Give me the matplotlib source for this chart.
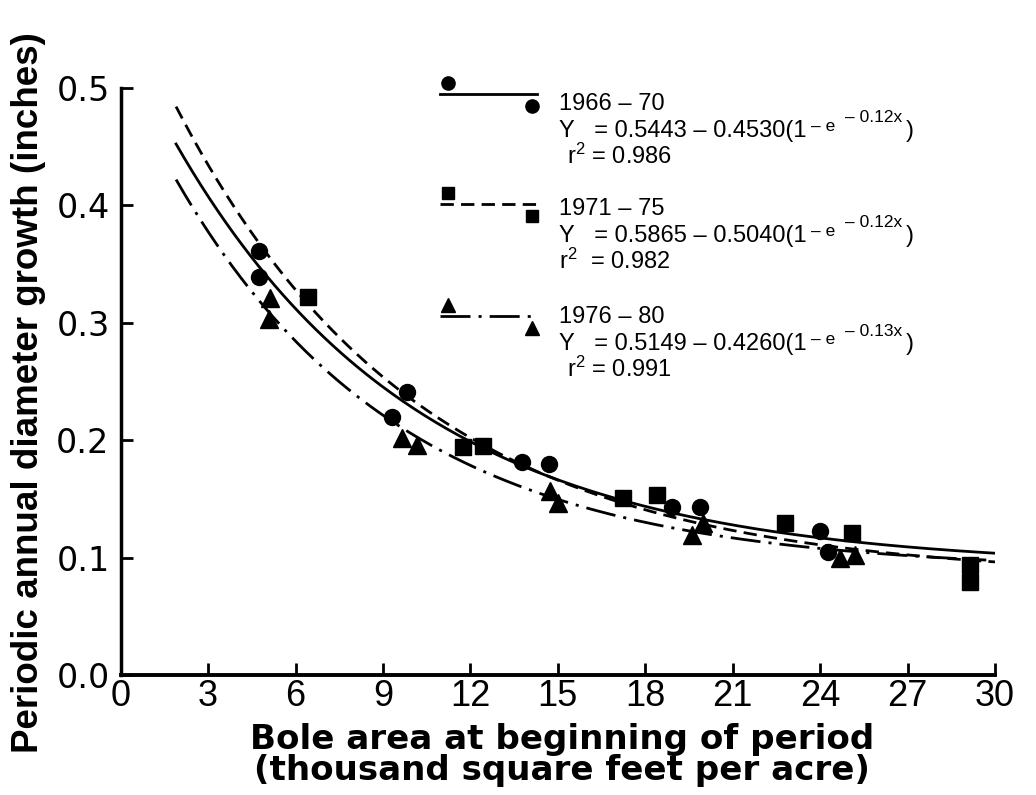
import numpy as np
import matplotlib
matplotlib.use("Agg")
import matplotlib.pyplot as plt

plt.rcParams['font.family'] = ['Liberation Sans', 'DejaVu Sans']
plt.rcParams['mathtext.fontset'] = 'custom'
plt.rcParams['mathtext.rm'] = 'Liberation Sans'
plt.rcParams['mathtext.it'] = 'Liberation Sans'

x_6670 = [4.75, 4.75, 9.83, 9.31, 13.77, 14.70, 18.92, 19.88, 24.00, 24.27]
y_6670 = [0.361, 0.339, 0.241, 0.220, 0.181, 0.180, 0.143, 0.143, 0.123, 0.105]

x_7175 = [6.43, 11.75, 12.44, 17.24, 18.41, 22.80, 25.10, 29.14, 29.14]
y_7175 = [0.322, 0.194, 0.195, 0.151, 0.153, 0.129, 0.121, 0.094, 0.079]

x_7680 = [5.13, 5.09, 9.65, 10.17, 14.73, 15.01, 19.98, 19.61, 24.68, 25.20]
y_7680 = [0.321, 0.303, 0.202, 0.196, 0.157, 0.146, 0.129, 0.119, 0.100, 0.102]

# fitted curves  Y = a - b(1 - e^(-k x))  as printed on the chart
periods = ['1966 – 70', '1971 – 75', '1976 – 80']
coef_a = [0.5443, 0.5865, 0.5149]
coef_b = [0.4530, 0.5040, 0.4260]
coef_k = [0.12, 0.12, 0.13]
r2 = ['0.986', '0.982', '0.991']
curve_start = [1.9, 1.9, 1.9]
curve_end = [30.0, 30.0, 29.7]

x_ticks = [0, 3, 6, 9, 12, 15, 18, 21, 24, 27, 30]
y_ticks = [0.0, 0.1, 0.2, 0.3, 0.4, 0.5]

fig = plt.figure(figsize=(10.36, 7.95), dpi=100)
ax = fig.add_axes([0.1165, 0.1509, 0.8439, 0.739])

styles = ['-', (0, (4.8, 2.6)), (0, (10.8, 2.9, 1.1, 2.9))]
markers = ['o', 's', '^']
msizes = [11.5, 11.5, 12.5]
pts = [(x_6670, y_6670), (x_7175, y_7175), (x_7680, y_7680)]

for i in range(3):
    xs = np.linspace(curve_start[i], curve_end[i], 300)
    ys = coef_a[i] - coef_b[i] * (1 - np.exp(-coef_k[i] * xs))
    ax.plot(xs, ys, color='black', lw=2.0, linestyle=styles[i])
    ax.plot(pts[i][0], pts[i][1], linestyle='none', marker=markers[i],
            ms=msizes[i], color='black', clip_on=False)

ax.set_xlim(0, 30)
ax.set_ylim(0, 0.5)
ax.spines['top'].set_visible(False)
ax.spines['right'].set_visible(False)
ax.spines['left'].set_linewidth(2.5)
ax.spines['bottom'].set_linewidth(2.8)

ax.set_xticks(x_ticks)
ax.set_xticklabels([str(t) for t in x_ticks])
ax.set_yticks(y_ticks)
ax.set_yticklabels(['%.1f' % t for t in y_ticks])
ax.tick_params(axis='x', direction='in', length=8.5, width=2, labelsize=26, pad=3)
ax.tick_params(axis='y', direction='in', length=8.5, width=2, labelsize=24, pad=8)
for lbl in ax.get_yticklabels():
    lbl.set_fontfamily('DejaVu Sans')

ax.set_ylabel('Periodic annual diameter growth (inches)', fontsize=26.5,
              fontweight='bold')
ax.yaxis.set_label_coords(-0.085, 0.48)
ax.set_xlabel('Bole area at beginning of period\n(thousand square feet per acre)',
              fontsize=24.6, fontweight='bold', family='DejaVu Sans', linespacing=0.9)
ax.xaxis.set_label_coords(0.5047, -0.082)

# key, drawn by hand like the original
key_line_y = [0.9889, 0.8017, 0.611]
key_text_y = [0.9617, 0.783, 0.599]
key_ms = [9.5, 8, 10]
r2_x = [0.5105, 0.5013, 0.5105]
r2_gap = [' ', '  ', ' ']
lx0, lx1 = 0.3652, 0.4762
for i in range(3):
    ly = key_line_y[i]
    ax.plot([lx0, lx1], [ly, ly], transform=ax.transAxes, color='black',
            lw=2.0, linestyle=styles[i], clip_on=False)
    ax.plot([0.3745], [ly + 0.019], transform=ax.transAxes, marker=markers[i],
            ms=key_ms[i], color='black', clip_on=False)
    ax.plot([0.4704], [ly - 0.021], transform=ax.transAxes, marker=markers[i],
            ms=key_ms[i], color='black', clip_on=False)

    ty = key_text_y[i]
    ax.text(0.5013, ty, periods[i], transform=ax.transAxes, fontsize=17,
            va='baseline')
    yb = ty - 0.046
    t1 = ax.text(0.5013, yb, 'Y   = %.4f – %.4f(1' % (coef_a[i], coef_b[i]),
                 transform=ax.transAxes, fontsize=17, va='baseline')
    t2 = ax.annotate('– e', xy=(1, yb), xycoords=(t1, 'axes fraction'),
                     xytext=(3.5, 4.3), textcoords='offset points',
                     fontsize=12.5, va='baseline', ha='left')
    t3 = ax.annotate('– %.2fx' % coef_k[i], xy=(1, yb), xycoords=(t2, 'axes fraction'),
                     xytext=(7, 10.5), textcoords='offset points',
                     fontsize=12.5, va='baseline', ha='left')
    ax.annotate(')', xy=(1, yb), xycoords=(t3, 'axes fraction'),
                xytext=(2.5, 0), textcoords='offset points',
                fontsize=17, va='baseline', ha='left')
    ax.text(r2_x[i], ty - 0.092, 'r$^2$' + r2_gap[i] + '= ' + r2[i],
            transform=ax.transAxes, fontsize=17, va='baseline')

fig.savefig('out.png', dpi=100)
